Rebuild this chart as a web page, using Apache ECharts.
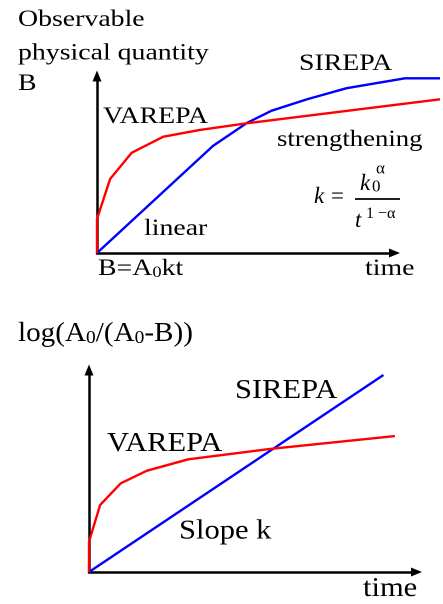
<!DOCTYPE html>
<html>
<head>
<meta charset="utf-8">
<script src="https://cdn.jsdelivr.net/npm/echarts@6/dist/echarts.min.js"></script>
<style>
html,body{margin:0;padding:0;background:#fff;}
#chart{width:443px;height:604px;}
</style>
</head>
<body>
<div id="chart"></div>
<script>
// ---- data (arbitrary units; each drawn axis spans 0..100) ----
const topSirepaT = [0, 39.0, 50.3, 58.7, 70.5, 83.9, 103.5, 115.3];
const topSirepaB = [0, 60.5, 73.4, 80.4, 86.8, 93.1, 98.7, 98.7];
const topVarepaT = [0, 0, 4.4, 11.7, 22.3, 34.6, 50.3, 115.3];
const topVarepaB = [0, 19.2, 41.8, 56.7, 65.7, 69.5, 73.3, 86.8];
const logSirepaT = [0, 89.9];
const logSirepaY = [0, 97.5];
const logVarepaT = [0, 0, 3.4, 9.7, 17.6, 30.3, 55.3, 93.4];
const logVarepaY = [0, 15.0, 33.2, 43.9, 50.1, 55.8, 60.9, 67.3];

const topLabels = ['Observable', 'physical quantity', 'B', 'SIREPA', 'VAREPA', 'strengthening', 'linear', 'time'];
const bottomLabels = ['SIREPA', 'VAREPA', 'Slope k', 'time'];

const pairs = (xs, ys) => xs.map((x, i) => [x, ys[i]]);
const FONT = '"Liberation Serif", "Times New Roman", serif';

// render the canvas at 2x so that serif glyphs are not distorted by small-size hinting
const chart = echarts.init(document.getElementById('chart'), null,
  {renderer: 'canvas', width: 443, height: 604, devicePixelRatio: 2});

function axis(gridIndex, visible, max) {
  return {
    type: 'value', gridIndex, min: 0, max: max,
    axisLine: {show: visible, onZero: false, symbol: ['none', 'triangle'], symbolSize: [9, 11],
      lineStyle: {color: '#000', width: 2.5}},
    axisTick: {show: false}, axisLabel: {show: false}, splitLine: {show: false}
  };
}

// text helper: x = left, baseline = alphabetic baseline; drawn at a base size then scaled
function txt(text, x, baseline, size, sx, sy) {
  sy = sy || 1;
  return {
    type: 'text', x: x, y: baseline - 0.34 * size * sy, scaleX: sx || 1, scaleY: sy, z: 100,
    style: {text: text, fontFamily: FONT, fontSize: size, fill: '#000',
      align: 'left', verticalAlign: 'middle'}
  };
}
function richTxt(text, x, baseline, size, subSize, subLH, sx, sy) {
  return {
    type: 'text', x: x, y: baseline - 0.34 * size * sy, scaleX: sx, scaleY: sy, z: 100,
    style: {
      text: text, fontFamily: FONT, fontSize: size, fill: '#000', align: 'left', verticalAlign: 'middle',
      rich: {
        m: {fontFamily: FONT, fontSize: size, lineHeight: size, fill: '#000'},
        s: {fontFamily: FONT, fontSize: subSize, lineHeight: subLH, verticalAlign: 'bottom', fill: '#000'}
      }
    }
  };
}
function ital(text, x, baseline, size, s) {
  const t = txt(text, x, baseline, size, s, s);
  t.style.fontStyle = 'italic';
  return t;
}

const BASE = 27;
const SX1 = 1.03, SY1 = 0.852, SX2 = 1.13;

const graphics = [
  txt(topLabels[0], 18, 28, BASE, SX1, SY1),
  txt(topLabels[1], 18, 61.5, BASE, SX1, SY1),
  txt(topLabels[2], 18, 91.7, BASE, SX1, SY1),
  txt(topLabels[3], 299, 72, BASE, SX1, SY1),
  txt(topLabels[4], 103, 125, BASE, SX1, SY1),
  txt(topLabels[5], 277, 148, BASE, 0.99, SY1),
  txt(topLabels[6], 144, 237, BASE, SX1, SY1),
  richTxt('{m|B=A}{s|0}{m|kt}', 98, 277, BASE, 18, 7, SX1, SY1),
  txt(topLabels[7], 365, 277, BASE, SX1, SY1),
  // formula k = k0^a / t^(1-a)
  ital('k', 314, 205, BASE, 0.85),
  txt('=', 331, 205, BASE, 0.85, 0.85),
  ital('k', 360, 191.7, BASE, 0.85),
  txt('0', 372, 193, 17, 1, 1),
  txt('\u03b1', 376, 175, 17, 1, 1),
  {type: 'line', z: 100, shape: {x1: 355, y1: 199, x2: 400, y2: 199}, style: {stroke: '#000', lineWidth: 1.8}},
  ital('t', 355, 229, BASE, 0.85),
  txt('1 \u2212\u03b1', 366, 219, 16, 1, 1),
  // bottom
  richTxt('{m|log(A}{s|0}{m|/(A}{s|0}{m|-B))}', 18, 343, BASE, 18, 14, 1.08, 1),
  txt(bottomLabels[0], 235, 400, BASE, SX2, 1),
  txt(bottomLabels[1], 107, 453, BASE, SX2, 1),
  txt(bottomLabels[2], 179, 540.5, BASE, SX2, 1),
  txt(bottomLabels[3], 363, 598, BASE, SX2, 1)
];

function lineSeries(xi, data, color) {
  return {
    type: 'line', xAxisIndex: xi, yAxisIndex: xi, data: data, showSymbol: false, symbol: 'none',
    clip: false, silent: true, lineStyle: {color: color, width: 2.4}
  };
}

// top panel: the curves run past the drawn time arrow, so the data grid (0) is wider than
// the frame grid (1) that carries the visible arrow axes, with the same px-per-unit scale
const TOP_UNIT = 297.5 / 100;
chart.setOption({
  animation: false,
  backgroundColor: '#fff',
  grid: [
    {left: 97, top: 76, width: 115.3 * TOP_UNIT, height: 177},
    {left: 97, top: 76, width: 297.5, height: 177},
    {left: 89, top: 370, width: 327.5, height: 202}
  ],
  xAxis: [axis(0, false, 115.3), axis(1, true, 100), axis(2, true, 100)],
  yAxis: [axis(0, false, 100), axis(1, true, 100), axis(2, true, 100)],
  series: [
    lineSeries(0, pairs(topSirepaT, topSirepaB), '#0000ff'),
    lineSeries(0, pairs(topVarepaT, topVarepaB), '#ff0000'),
    lineSeries(2, pairs(logSirepaT, logSirepaY), '#0000ff'),
    lineSeries(2, pairs(logVarepaT, logVarepaY), '#ff0000')
  ],
  graphic: graphics
});
</script>
</body>
</html>
